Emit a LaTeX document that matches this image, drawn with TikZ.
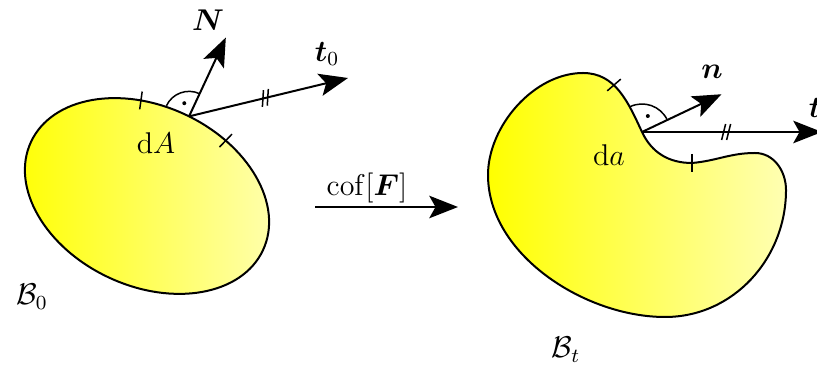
\documentclass[tikz,border=0pt]{standalone}
\usepackage{amsmath}
\usepackage{bm}
\usetikzlibrary{arrows.meta}
\begin{document}
\begin{tikzpicture}[x=0.4pt, y=0.4pt, font=\large,
        vec/.style={-{Stealth[length=11.5pt, width=9pt, inset=2.5pt]}, thick},
        body/.style={draw=black, thick, left color=yellow, right color=yellow!30!white},
        tickmark/.style={semithick}]
        \useasboundingbox (0,0) rectangle (817,365);

        % body 1 (reference configuration)
        \shadedraw[body, rotate around={-25:(147,169)}] (147,169) ellipse [x radius=128, y radius=90];
        \begin{scope}[shift={(147,169)}, rotate=-25]
            \coordinate (A)  at (88:128 and 90);
            \coordinate (A1) at (111:128 and 90);
            \coordinate (A2) at (68:128 and 90);
        \end{scope}

        \draw[tickmark, shift={(A1)}] (82:9) -- (262:9);
        \draw[tickmark, shift={(A2)}] (46:9) -- (226:9);

        \draw[vec] (A) -- ++(65:87) coordinate (Ntip);
        \draw[vec] (A) -- coordinate[pos=0.48] (m0) (348,287) coordinate (t0tip);
        \draw[tickmark, shift={(m0)}, rotate=13.7] (-5,-8) -- (0,8) (0,-8) -- (5,8);

        \draw[tickmark, shift={(A)}] (65:25) arc[start angle=65, end angle=155, radius=25];
        \fill[shift={(A)}] (110:14) circle (2);

        \node (Nlab)  at (208,345) {$\bm{N}$};
        \node (t0lab) at (327,311) {$\bm{t}_0$};
        \node (dA)    at (156,222) {$\mathrm{d}A$};
        \node (B0)    at (32,68)   {$\mathcal{B}_0$};

        % mapping
        \node (map) at (367,177) {$\mathrm{cof}[\bm{F}]$};
        \coordinate (m1) at (315,158);
        \coordinate (m2) at (458,158);
        \draw[vec] (m1) -- (m2);

        % body 2 (current configuration)
        \coordinate (a)  at (642,233);
        \coordinate (a1) at (614,280);
        \coordinate (a2) at (692,202);
        \shadedraw[body] (a) to[out=-65, in=180] (a2)
            to[out=5, in=180] (755,212) to[out=0, in=90] (786,175)
            to[out=-90, in=0] (665,48)
            to[out=180, in=-90, looseness=0.9] (488,190)
            to[out=90, in=180, looseness=0.9] (583,292)
            to[out=0, in=115] (a) -- cycle;

        \draw[tickmark, shift={(a1)}] (41:9) -- (221:9);
        \draw[tickmark, shift={(a2)}] (90:9) -- (270:9);

        \draw[vec] (a) -- ++(25.4:88) coordinate (ntip);
        \draw[vec] (a) -- coordinate[pos=0.47] (m3) (822,233) coordinate (ttip);
        \draw[tickmark, shift={(m3)}] (-5,-8) -- (-1,8) (0,-8) -- (4,8);

        \draw[tickmark, shift={(a)}] (25.4:28) arc[start angle=25.4, end angle=115.4, radius=28];
        \fill[shift={(a)}] (70:17) circle (2);

        \node (nlab) at (712,293) {$\bm{n}$};
        \node (tlab) at (815,257) {$\bm{t}$};
        \node (da)   at (609,210) {$\mathrm{d}a$};
        \node (Bt)   at (566,15)  {$\mathcal{B}_t$};
\end{tikzpicture}
\end{document}
